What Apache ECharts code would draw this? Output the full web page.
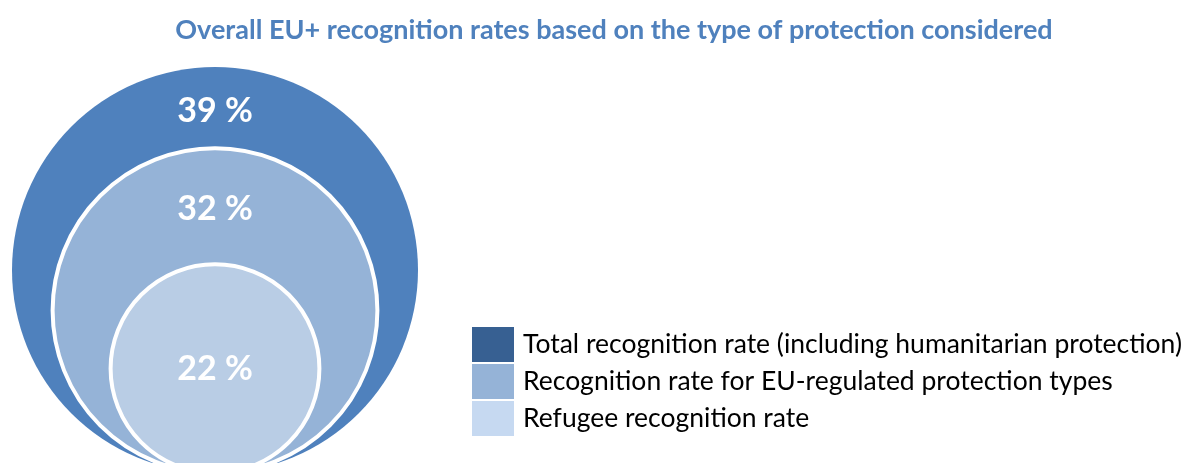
<!DOCTYPE html>
<html>
<head>
<meta charset="utf-8">
<title>Overall EU+ recognition rates</title>
<script src="https://cdn.jsdelivr.net/npm/echarts@6/dist/echarts.min.js"></script>
<style>
  html, body { margin: 0; padding: 0; background: #fff; }
  #chart { width: 1192px; height: 463px; }
</style>
</head>
<body>
<div id="chart"></div>
<script>
// data
const categories = [
  "Total recognition rate (including humanitarian protection)",
  "Recognition rate for EU-regulated protection types",
  "Refugee recognition rate"
];
const rates = [39, 32, 22];
const circleColors = ["#4F81BD", "#95B3D7", "#B9CDE5"];
const legendColors = ["#376092", "#95B3D7", "#C6D9F1"];

// radius axis starts a little above zero so the rings look like the original
const radiusMin = 4;

const chart = echarts.init(document.getElementById("chart"));

function renderCircle(idx) {
  return function (params, api) {
    const v = api.value(1);
    const base = api.coord([0, radiusMin]); // bottom tangent point
    const r = base[1] - api.coord([0, v])[1];
    const cx = base[0];
    const cy = base[1] - r;
    const top = base[1] - 2 * r;
    let labelY = cy;
    if (idx < rates.length - 1) {
      const rNext = base[1] - api.coord([0, rates[idx + 1]])[1];
      labelY = (top + (base[1] - 2 * rNext)) / 2 + 3;
    }
    return {
      type: "group",
      children: [
        {
          type: "circle",
          shape: { cx: cx, cy: cy, r: r },
          style: {
            fill: circleColors[idx],
            stroke: idx === 0 ? null : "#fff",
            lineWidth: idx === 0 ? 0 : 4
          }
        },
        {
          type: "text",
          x: cx,
          y: labelY,
          style: {
            text: v + " %",
            fill: "#fff",
            font: "bold 34px Lato",
            align: "center",
            verticalAlign: "middle"
          }
        }
      ]
    };
  };
}

let option = {
  animation: false,
  title: {
    text: "Overall EU+ recognition rates based on the type of protection considered",
    left: 614,
    textAlign: "center",
    top: 17,
    padding: 0,
    textStyle: {
      color: "#4F81BD",
      fontFamily: "Lato",
      fontWeight: "bold",
      fontSize: 27
    }
  },
  legend: {
    orient: "vertical",
    left: 472,
    top: 327,
    padding: 0,
    itemWidth: 42,
    itemHeight: 35,
    itemGap: 2,
    icon: "rect",
    selectedMode: false,
    textStyle: {
      color: "#000",
      fontFamily: "Lato",
      fontSize: 26.5,
      padding: [0, 0, 0, 4]
    },
    data: categories.map((name, i) => ({
      name: name,
      itemStyle: { color: legendColors[i] }
    }))
  },
  grid: {
    left: 15,
    width: 400,
    top: 270,
    height: 203,
    outerBoundsMode: "none",
    containLabel: false
  },
  xAxis: { type: "value", min: -1, max: 1, show: false },
  yAxis: { type: "value", min: radiusMin, max: rates[0], show: false },
  series: categories.map((name, i) => ({
    name: name,
    type: "custom",
    clip: false,
    silent: true,
    itemStyle: { color: circleColors[i] },
    renderItem: renderCircle(i),
    data: [[0, rates[i]]]
  }))
};

chart.setOption(option);
</script>
</body>
</html>
